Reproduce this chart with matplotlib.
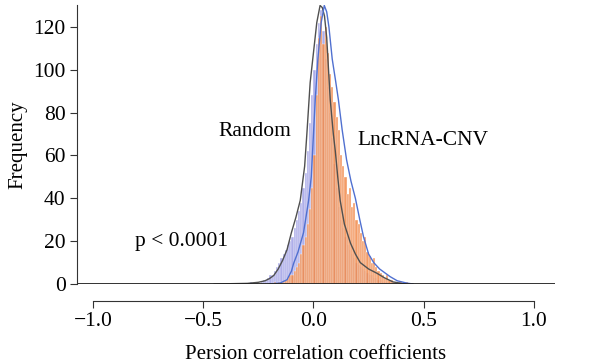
import matplotlib.pyplot as plt
import numpy as np

plt.rcParams['font.family'] = ['Liberation Serif', 'DejaVu Serif']

bin_width = 0.01

# Random: histogram (bin left edges) and density curve
random_edges = np.round(np.arange(-0.30, 0.35, 0.01), 2)
random_counts = [0, 1, 0, 0, 1, 0, 1, 2, 2, 3,
                 4, 4, 6, 8, 10, 12, 14, 16, 18, 20,
                 22, 26, 30, 34, 38, 45, 52, 62, 75, 88,
                 100, 112, 122, 128, 118, 105, 92, 80, 68, 56,
                 45, 36, 30, 26, 22, 18, 16, 14, 12, 10,
                 9, 8, 7, 6, 5, 4, 4, 3, 3, 2,
                 2, 1, 1, 1, 0]
random_curve_x = [-0.45, -0.30, -0.25, -0.22, -0.20, -0.18, -0.16, -0.14, -0.12, -0.10,
                  -0.08, -0.06, -0.04, -0.03, -0.015, 0.0, 0.015, 0.03, 0.04, 0.05,
                  0.06, 0.076, 0.09, 0.099, 0.11, 0.121, 0.14, 0.168, 0.19, 0.212,
                  0.25, 0.288, 0.32, 0.36, 0.40, 0.45]
random_curve_y = [0, 0.3, 0.8, 1.5, 2.5, 4, 7, 11, 16, 24,
                  31, 39, 55, 70, 94, 108, 122, 130, 129, 125,
                  115, 86, 70, 62, 50, 39, 28, 19, 14, 10,
                  7, 5, 3, 1, 0.3, 0]

# LncRNA-CNV: histogram (bin left edges) and density curve
lnc_edges = np.round(np.arange(-0.20, 0.45, 0.01), 2)
lnc_counts = [0, 0, 1, 0, 1, 1, 1, 2, 3, 4,
              4, 6, 8, 10, 14, 18, 22, 28, 35, 45,
              60, 88, 115, 125, 112, 120, 108, 98, 92, 85,
              78, 72, 60, 55, 50, 42, 45, 36, 38, 30,
              28, 24, 20, 22, 15, 13, 10, 12, 8, 6,
              5, 4, 3, 4, 2, 2, 1, 1, 0, 1,
              0, 0, 1, 0, 0]
lnc_curve_x = [-0.20, -0.15, -0.12, -0.10, -0.09, -0.07, -0.045, -0.022, -0.01, 0.0,
               0.008, 0.02, 0.035, 0.049, 0.06, 0.07, 0.085, 0.10, 0.113, 0.13,
               0.15, 0.17, 0.19, 0.21, 0.227, 0.25, 0.273, 0.30, 0.348, 0.38,
               0.42, 0.45]
lnc_curve_y = [0, 0.5, 2, 6, 9.6, 15, 24, 39, 50, 70,
               86, 105, 122, 130, 127, 120, 105, 95, 86, 72,
               58, 48, 40, 30, 22, 14, 10, 7, 3.4, 1.5,
               0.5, 0]

fig, ax = plt.subplots(figsize=(6, 3.63), dpi=100)
fig.subplots_adjust(left=0.128, right=0.925, bottom=0.2176, top=0.985)

ax.bar(random_edges, random_counts, width=bin_width, align='edge',
       color='#a0a0e6', edgecolor='white', linewidth=0.3, alpha=0.85)
ax.bar(lnc_edges, lnc_counts, width=bin_width, align='edge',
       color='#f28a4a', edgecolor='white', linewidth=0.3, alpha=0.85)
ax.plot(random_curve_x, random_curve_y, color='#505050', lw=1.0)
ax.plot(lnc_curve_x, lnc_curve_y, color='#5070d0', lw=1.0)

ax.axhline(0, color='#222222', lw=1.3)

ax.text(-0.264, 71.4, 'Random', fontsize=15.5, ha='center', va='center')
ax.text(0.496, 67, 'LncRNA-CNV', fontsize=15.5, ha='center', va='center')
ax.text(-0.597, 20, 'p < 0.0001', fontsize=15.5, ha='center', va='center')

ax.set_xlim(-1.073, 1.095)
ax.set_ylim(0, 130)
ax.set_xticks([-1.0, -0.5, 0.0, 0.5, 1.0])
ax.set_xticklabels(['\u22121.0', '\u22120.5', '0.0', '0.5', '1.0'])
ax.set_yticks([0, 20, 40, 60, 80, 100, 120])

for s in ['top', 'right']:
    ax.spines[s].set_visible(False)
ax.spines['bottom'].set_position(('outward', 12))
ax.spines['bottom'].set_bounds(-1.0, 1.0)
ax.spines['bottom'].set_color('#333333')
ax.spines['left'].set_color('#333333')
ax.tick_params(axis='both', labelsize=15.5, length=5, color='#333333')
ax.tick_params(axis='y', pad=3)

ax.set_xlabel('Persion correlation coefficients', fontsize=15, labelpad=10)
ax.set_ylabel('Frequency', fontsize=15, labelpad=4)

plt.savefig('out.png', dpi=100)
